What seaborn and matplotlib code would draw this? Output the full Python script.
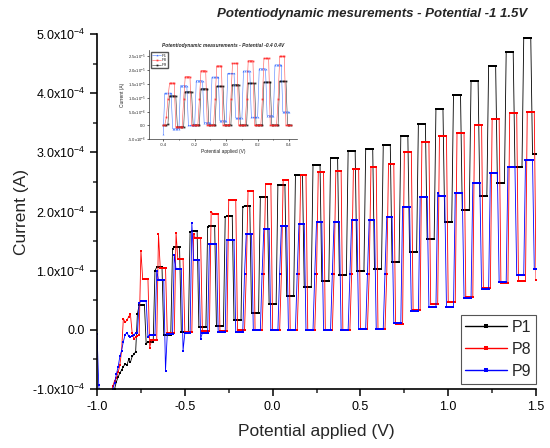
import numpy as np
import pandas as pd
import matplotlib
matplotlib.use("Agg")
import matplotlib.pyplot as plt
from matplotlib.ticker import MultipleLocator, FuncFormatter
import seaborn as sns

STEP = 0.01  # potential step (V)

# ---- main chart, current in 1e-4 A ----
# points before the square wave settles, one per 0.01 V from -1.0 V
p1_lead = [-1.9, -1.8, -1.7, -1.6, -1.5, -1.4, -1.3, -1.2, -1.15, -1.08,
           -1.0, -0.88, -0.80, -0.73, -0.68, -0.62, -0.58, -0.60, -0.50, -0.55,
           -0.45, -0.41, -0.37]
p8_lead = [-1.8, -1.7, -1.6, -1.5, -1.4, -1.3, -1.2, -1.1, -1.05, -0.95,
           -0.86, -0.82, -0.72, -0.60, -0.35, 0.19, 0.13, 0.16, 0.22, 0.27,
           -0.05, -0.15, -0.12, -0.10, -0.08]
p9_lead = [-0.07, -0.94, -1.3, -1.4, -1.4, -1.3, -1.2, -1.15, -1.05, -1.0,
           -0.90, -0.75, -0.63, -0.45, -0.35, -0.20, -0.08, -0.05, -0.10, -0.12,
           -0.10, -0.08, -0.06, -0.05]

# one value per pulse (pulses every 0.1 V): first point of the high part,
# high level, first point of the low part, low level
p1_rise = [0.27, 1.00, 1.37, 1.65, 1.73, 1.90, 2.07, 2.24, 2.44, 2.62, 2.78, 2.90,
           3.02, 3.06, 3.13, 3.28, 3.48, 3.73, 3.97, 4.21, 4.46, 4.69, 4.94]
p1_high = [0.42, 1.06, 1.40, 1.67, 1.76, 1.93, 2.10, 2.24, 2.44, 2.62, 2.78, 2.90,
           3.02, 3.06, 3.13, 3.28, 3.48, 3.73, 3.97, 4.21, 4.46, 4.69, 4.94]
p1_fall = [-0.24, -0.08, -0.03, 0.04, 0.07, 0.17, 0.29, 0.44, 0.58, 0.73, 0.83, 0.93,
           1.00, 1.03, 1.14, 1.31, 1.54, 1.82, 2.02, 2.27, 2.49, 2.75, 2.97]
p1_low = [-0.20, -0.08, -0.03, 0.04, 0.07, 0.17, 0.29, 0.44, 0.58, 0.73, 0.83, 0.93,
          1.00, 1.03, 1.14, 1.31, 1.54, 1.82, 2.02, 2.27, 2.49, 2.75, 2.97]

p8_rise = [1.34, 1.62, 1.64, 1.62, 2.00, 2.20, 0.95, 0.95, 0.95, 0.95, 0.95, 0.95,
           0.95, 0.95, 0.95, 3.00, 3.17, 3.27, 3.32, 3.47, 3.56, 3.66, 3.69]
p8_high = [0.86, 1.05, 1.20, 1.55, 1.96, 2.20, 2.35, 2.47, 2.53, 2.62, 2.66, 2.69,
           2.72, 2.75, 2.81, 3.00, 3.17, 3.27, 3.32, 3.47, 3.56, 3.66, 3.69]
p8_fall = [-0.30, -0.06, -0.03, -0.02, -0.02, -0.01, -0.01, 0.00, 0.00, 0.00, 0.00, 0.00,
           0.02, 0.02, 0.10, 0.33, 0.44, 0.47, 0.56, 0.70, 0.79, 0.83, 0.85]
p8_low = [-0.18, -0.06, -0.03, -0.02, -0.02, -0.01, -0.01, 0.00, 0.00, 0.00, 0.00, 0.00,
          0.02, 0.02, 0.10, 0.33, 0.44, 0.47, 0.56, 0.70, 0.79, 0.83, 0.85]

p9_rise = [0.45, 1.00, 1.27, 1.80, 1.45, 1.52, 0.95, 0.95, 0.95, 0.95, 0.95, 0.95,
           0.95, 0.95, 0.95, 2.07, 2.24, 2.32, 2.32, 2.48, 2.65, 2.75, 2.87]
p9_high = [0.49, 0.84, 1.02, 1.18, 1.45, 1.52, 1.62, 1.71, 1.76, 1.79, 1.82, 1.83,
           1.85, 1.86, 1.91, 2.07, 2.24, 2.27, 2.32, 2.48, 2.65, 2.75, 2.87]
p9_fall = [-0.12, -0.69, -0.35, -0.15, -0.04, -0.03, -0.01, -0.01, 0.00, 0.00, 0.00, 0.00,
           0.02, 0.02, 0.12, 0.31, 0.38, 0.38, 0.54, 0.69, 0.80, 0.93, 1.03]
p9_low = [-0.08, -0.07, -0.06, -0.05, -0.04, -0.03, -0.01, -0.01, 0.00, 0.00, 0.00, 0.00,
          0.02, 0.02, 0.12, 0.31, 0.38, 0.38, 0.54, 0.69, 0.80, 0.93, 1.03]

# ---- inset (-0.4 .. 0.4 V), current in 1e-5 A ----
in_p1_lead = [-0.30]
in_p1_high = [1.17, 1.44, 1.62, 1.75, 1.88, 1.97, 2.05, 2.19]
in_p1_low = [-0.12, 0.00, 0.10, 0.17, 0.27, 0.30, 0.36, 0.49]
in_p8_lead = [0.00, 0.02, 0.30]
in_p8_rise = [0.95, 0.95, 0.95, 0.95, 0.95, 0.95, 0.95, 0.95]
in_p8_high = [1.53, 1.76, 1.98, 2.15, 2.24, 2.34, 2.42, 2.50]
in_p8_low = [-0.05, 0.00, 0.00, 0.00, 0.00, 0.00, 0.00, 0.00]
in_p9_lead = [0.00, 0.00, 0.00, 0.05]
in_p9_high = [1.07, 1.22, 1.33, 1.42, 1.48, 1.53, 1.57, 1.60]
in_p9_low = [-0.05, 0.02, 0.02, 0.02, 0.02, 0.02, 0.02, 0.02]


def build(x0, x_end, scale, lead, rise, high, fall, low):
    vals = list(lead)
    for r, h, f, l in zip(rise, high, fall, low):
        vals += [r] + [h] * 4 + [f] + [l] * 4
    x = np.round(x0 + STEP * np.arange(len(vals)), 2)
    y = np.array(vals) * scale
    keep = x <= x_end + 1e-9
    return pd.DataFrame({"x": x[keep], "y": y[keep]})


def sci_formatter(exp):
    def fmt(v, pos):
        m = v / 10 ** exp
        if abs(m) < 1e-9:
            return "0.0"
        return f"{m:.1f}x10$^{{{exp}}}$"
    return FuncFormatter(fmt)


sns.set_theme(style="ticks")
plt.rcParams["font.family"] = ["Liberation Sans", "DejaVu Sans"]
plt.rcParams["mathtext.default"] = "regular"

fig = plt.figure(figsize=(5.5, 4.48), dpi=100)
ax = fig.add_axes([0.1764, 0.1317, 0.7982, 0.7924])

series = [
    ("P1", "black", build(-1.0, 1.5, 1e-4, p1_lead, p1_rise, p1_high, p1_fall, p1_low)),
    ("P8", "red", build(-1.0, 1.5, 1e-4, p8_lead, p8_rise, p8_high, p8_fall, p8_low)),
    ("P9", "blue", build(-1.0, 1.5, 1e-4, p9_lead, p9_rise, p9_high, p9_fall, p9_low)),
]
for name, color, df in series:
    sns.lineplot(data=df, x="x", y="y", ax=ax, color=color, linewidth=0.6,
                 marker="s", markersize=1.9, markeredgewidth=0, label=name,
                 sort=False, estimator=None)

ax.set_xlim(-1.0, 1.5)
ax.set_ylim(-1.0e-4, 5.0e-4)
ax.xaxis.set_major_locator(MultipleLocator(0.5))
ax.xaxis.set_minor_locator(MultipleLocator(0.25))
ax.yaxis.set_major_locator(MultipleLocator(1e-4))
ax.yaxis.set_minor_locator(MultipleLocator(0.5e-4))
ax.yaxis.set_major_formatter(sci_formatter(-4))
ax.xaxis.set_major_formatter(FuncFormatter(lambda v, p: f"{v:.1f}"))
ax.tick_params(which="major", direction="out", length=5, width=1.1, labelsize=9, colors="black")
ax.tick_params(which="minor", direction="out", length=3, width=1.1)
for side in ["top", "right"]:
    ax.spines[side].set_visible(False)
for side in ["left", "bottom"]:
    ax.spines[side].set_linewidth(1.2)
    ax.spines[side].set_color("black")

ax.set_xlabel("Potential applied (V)", fontsize=12.5)
ax.set_ylabel("Current (A)", fontsize=12.5)
ax.yaxis.set_label_coords(-0.155, 0.5)
ax.xaxis.set_label_coords(0.5, -0.1)

fig.text(0.958, 0.962, "Potentiodynamic mesurements - Potential -1 1.5V",
         ha="right", va="baseline", fontsize=9.5, fontweight="bold", fontstyle="italic")

leg = ax.legend(loc="lower right", bbox_to_anchor=(1.0, 0.015), borderaxespad=0,
                fontsize=11.5, handlelength=2.6, handletextpad=0.3, labelspacing=0.45,
                borderpad=0.3, fancybox=False, edgecolor="#555555", framealpha=1)
leg.get_frame().set_linewidth(0.8)
for line in leg.get_lines():
    line.set_linewidth(1.0)
    line.set_markersize(3)

# ---- inset ----
ins = fig.add_axes([0.271, 0.689, 0.269, 0.199])
ins.patch.set_alpha(0)
inset_series = [
    ("P9", "black", "s", build(-0.4, 0.41, 1e-5, in_p9_lead, in_p9_high, in_p9_high, in_p9_low, in_p9_low)),
    ("P1", "#1f5bff", "^", build(-0.4, 0.41, 1e-5, in_p1_lead, in_p1_high, in_p1_high, in_p1_low, in_p1_low)),
    ("P8", "#ff2020", "s", build(-0.4, 0.41, 1e-5, in_p8_lead, in_p8_rise, in_p8_high, in_p8_low, in_p8_low)),
]
for name, color, mk, df in inset_series:
    sns.lineplot(data=df, x="x", y="y", ax=ins, color=color, linewidth=0.4, alpha=0.8,
                 marker=mk, markersize=1.3, markeredgewidth=0, label=name,
                 sort=False, estimator=None)
ins.set_xlim(-0.49, 0.45)
ins.set_ylim(-5e-6, 2.72e-5)
ins.xaxis.set_major_locator(MultipleLocator(0.2))
ins.xaxis.set_minor_locator(MultipleLocator(0.1))
ins.yaxis.set_major_locator(MultipleLocator(5e-6))
ins.yaxis.set_major_formatter(FuncFormatter(
    lambda v, p: "0.0" if abs(v) < 1e-12 else
    (f"{v / 1e-6:.1f}x10$^{{-6}}$" if abs(v) < 9e-6 else f"{v / 1e-5:.1f}x10$^{{-5}}$")))
ins.xaxis.set_major_formatter(FuncFormatter(lambda v, p: f"{v:.1f}"))
ins.tick_params(which="major", direction="out", length=1.5, width=0.5, labelsize=3, pad=1)
ins.tick_params(which="minor", direction="out", length=1, width=0.5)
for side in ["top", "right"]:
    ins.spines[side].set_visible(False)
for side in ["left", "bottom"]:
    ins.spines[side].set_linewidth(0.5)
    ins.spines[side].set_color("#333333")
ins.set_xlabel("Potential applied (V)", fontsize=3.5, labelpad=1.5)
ins.set_ylabel("Current (A)", fontsize=3.5, labelpad=1.5)
ins.set_title("Potentiodynamic measurements - Potential -0.4 0.4V", fontsize=3.5,
              fontweight="bold", fontstyle="italic", pad=2)
handles, labels = ins.get_legend_handles_labels()
order = [labels.index(n) for n in ["P1", "P8", "P9"]]
ins.legend([handles[i] for i in order], ["P1", "P8", "P9"], loc="upper left",
           fontsize=3, handlelength=2, handletextpad=0.3, labelspacing=0.2,
           borderpad=0.3, fancybox=False, edgecolor="#555555", framealpha=1)

fig.savefig("out.png", dpi=100)
